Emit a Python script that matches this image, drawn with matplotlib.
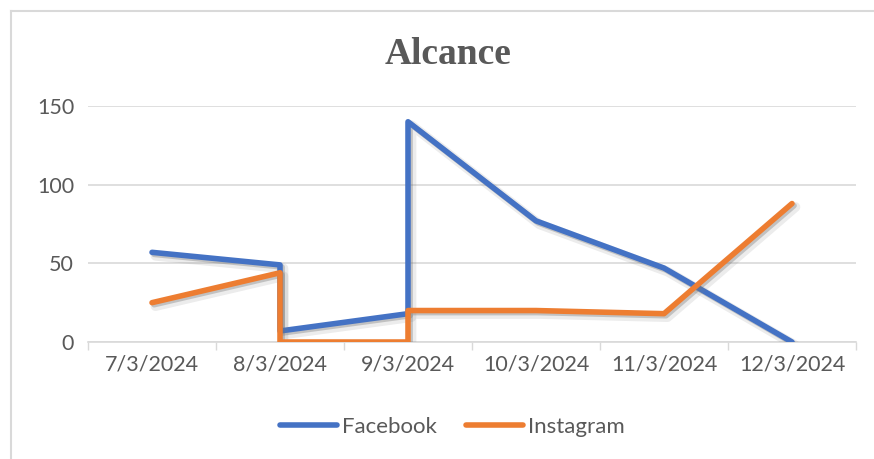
import matplotlib
matplotlib.use("Agg")
import matplotlib.pyplot as plt
import matplotlib.patheffects as pe
from matplotlib.lines import Line2D

# datos
fechas = ["7/3/2024", "8/3/2024", "9/3/2024", "10/3/2024", "11/3/2024", "12/3/2024"]
fb_pos = [0, 1, 1, 2, 2, 3, 4, 5]
fb_val = [57, 49, 7, 18, 140, 77, 47, 0]
ig_pos = [0, 1, 1, 2, 2, 3, 4, 5]
ig_val = [25, 44, 0, 0, 20, 20, 18, 88]

azul = "#4472C4"
naranja = "#ED7D31"
gris = "#595959"

fig = plt.figure(figsize=(8.74, 4.59), dpi=100)
W, H = 874, 459
ax = fig.add_axes([88 / W, (H - 342) / H, (856 - 88) / W, (342 - 106) / H])

# sombra difusa aproximada con dos capas
sombra = [pe.SimpleLineShadow(offset=(2.5, -2.5), shadow_color="0.5", alpha=0.15, linewidth=7),
          pe.SimpleLineShadow(offset=(1.5, -1.5), shadow_color="0.45", alpha=0.35),
          pe.Normal()]
ax.plot(fb_pos, fb_val, color=azul, linewidth=4, solid_capstyle="round",
        solid_joinstyle="round", label="Facebook", path_effects=sombra, zorder=3)
ax.plot(ig_pos, ig_val, color=naranja, linewidth=4, solid_capstyle="round",
        solid_joinstyle="round", label="Instagram", path_effects=sombra, zorder=3)

ax.set_xlim(-0.5, len(fechas) - 0.5)
ax.set_ylim(0, 150)
ax.set_yticks([0, 50, 100, 150])
ax.set_xticks(range(len(fechas)))
ax.set_xticklabels(fechas)
ax.set_xticks([i - 0.5 for i in range(len(fechas) + 1)], minor=True)
ax.tick_params(axis="x", which="major", length=0, pad=9, labelsize=15.5, labelcolor=gris)
ax.tick_params(axis="x", which="minor", length=6, color="#D9D9D9", width=1)
ax.tick_params(axis="y", length=0, pad=10, labelsize=15.5, labelcolor=gris)
for lab in ax.get_xticklabels() + ax.get_yticklabels():
    lab.set_fontfamily("Lato")

ax.grid(axis="y", color="#D9D9D9", linewidth=1.2)
ax.set_axisbelow(True)
for s in ["top", "right", "left"]:
    ax.spines[s].set_visible(False)
ax.spines["bottom"].set_color("#D9D9D9")
ax.spines["bottom"].set_linewidth(1.2)

fig.text(448 / W, 1 - 54 / H, "Alcance", ha="center", va="center",
         fontsize=27, fontweight="bold", family="Liberation Serif", color=gris)

leg = fig.legend(loc="center", bbox_to_anchor=(452 / W, 1 - 427 / H), ncol=2,
                 frameon=False, handlelength=2.6, handletextpad=0.2, columnspacing=1.3,
                 prop={"family": "Lato", "size": 16})
for t in leg.get_texts():
    t.set_color(gris)
for h in leg.legend_handles:
    h.set_path_effects([])
    h.set_linewidth(4)

# borde del gráfico
fig.add_artist(Line2D([11 / W, 11 / W], [0, 1 - 11 / H], color="#D9D9D9", linewidth=1.5))
fig.add_artist(Line2D([11 / W, 1], [1 - 11 / H, 1 - 11 / H], color="#D9D9D9", linewidth=1.5))

fig.savefig("out.png", dpi=100, facecolor="white")
